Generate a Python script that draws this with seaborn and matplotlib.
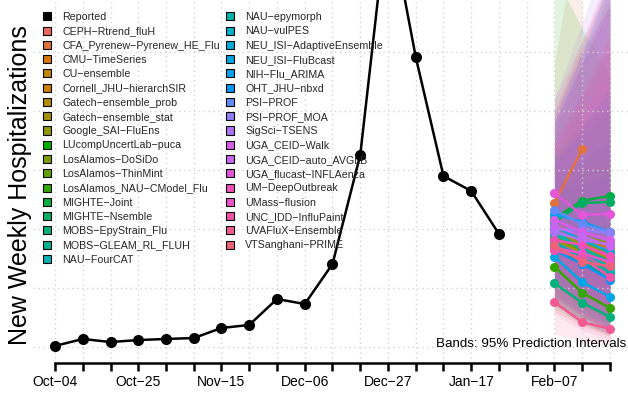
import numpy as np
import pandas as pd
import matplotlib
matplotlib.use("Agg")
import matplotlib.pyplot as plt
import seaborn as sns
from matplotlib.patches import Patch
from matplotlib.ticker import MultipleLocator

# ---------------------------------------------------------------- data
report_dates = ["2025-10-04", "2025-10-11", "2025-10-18", "2025-10-25", "2025-11-01",
                "2025-11-08", "2025-11-15", "2025-11-22", "2025-11-29", "2025-12-06",
                "2025-12-13", "2025-12-20", "2025-12-27", "2026-01-03", "2026-01-10",
                "2026-01-17", "2026-01-24"]
reported = [90, 680, 420, 590, 680, 760, 1610, 1870, 4070, 3640,
            7030, 16270, 37000, 24580, 14490, 13220, 9580]

fc_dates = ["2026-02-07", "2026-02-14", "2026-02-21"]

# legend / display order
models = ["CEPH-Rtrend_fluH", "CFA_Pyrenew-Pyrenew_HE_Flu", "CMU-TimeSeries", "CU-ensemble",
          "Cornell_JHU-hierarchSIR", "Gatech-ensemble_prob", "Gatech-ensemble_stat",
          "Google_SAI-FluEns", "LUcompUncertLab-puca", "LosAlamos-DoSiDo", "LosAlamos-ThinMint",
          "LosAlamos_NAU-CModel_Flu", "MIGHTE-Joint", "MIGHTE-Nsemble", "MOBS-EpyStrain_Flu",
          "MOBS-GLEAM_RL_FLUH", "NAU-FourCAT", "NAU-epymorph", "NAU-vulPES",
          "NEU_ISI-AdaptiveEnsemble", "NEU_ISI-FluBcast", "NIH-Flu_ARIMA", "OHT_JHU-nbxd",
          "PSI-PROF", "PSI-PROF_MOA", "SigSci-TSENS", "UGA_CEID-Walk", "UGA_CEID-auto_AVGLB",
          "UGA_flucast-INFLAenza", "UM-DeepOutbreak", "UMass-flusion", "UNC_IDD-InfluPaint",
          "UVAFluX-Ensemble", "VTSanghani-PRIME"]

# order used when the hue wheel is handed out
color_order = ["CEPH-Rtrend_fluH", "CFA_Pyrenew-Pyrenew_HE_Flu", "CMU-TimeSeries",
               "Cornell_JHU-hierarchSIR", "CU-ensemble", "Gatech-ensemble_prob",
               "Gatech-ensemble_stat", "Google_SAI-FluEns", "LosAlamos-DoSiDo",
               "LosAlamos-ThinMint", "LosAlamos_NAU-CModel_Flu", "LUcompUncertLab-puca",
               "MIGHTE-Joint", "MIGHTE-Nsemble", "MOBS-EpyStrain_Flu", "MOBS-GLEAM_RL_FLUH",
               "NAU-epymorph", "NAU-FourCAT", "NAU-vulPES", "NEU_ISI-AdaptiveEnsemble",
               "NEU_ISI-FluBcast", "NIH-Flu_ARIMA", "OHT_JHU-nbxd", "PSI-PROF", "PSI-PROF_MOA",
               "SigSci-TSENS", "UGA_CEID-auto_AVGLB", "UGA_CEID-Walk", "UGA_flucast-INFLAenza",
               "UMass-flusion", "UM-DeepOutbreak", "UNC_IDD-InfluPaint", "UVAFluX-Ensemble",
               "VTSanghani-PRIME"]

nan = np.nan
fc_median = [
    [9250, 8650, 8200], [12200, 16800, nan], [10350, 9250, 8400], [9400, 8200, 7200],
    [9750, 8550, 7550], [9600, 9050, 8550], [9050, 8050, 7050], [9400, 8750, 8050],
    [8500, 7200, 6000], [10100, 9400, 8750], [9250, 8200, 7350], [6800, 4600, 3300],
    [10900, 12400, 12800], [10600, 12200, 12300], [5400, 3750, 2550], [8900, 7550, 6350],
    [9900, 8200, 6700], [9500, 8400, 7200], [8900, 7350, 6000], [10250, 9050, 8050],
    [7650, 5500, 4250], [11250, 10600, 9750], [8200, 7050, 5700], [11600, 10400, 9750],
    [10000, 9900, 9650], [9750, 9050, 8700], [10750, 9750, 9050], [10250, 9400, 8550],
    [13050, 11200, 11300], [9050, 8650, 7700], [8400, 7950, 7200], [8200, 7550, 5950],
    [3800, 2100, 1550], [8650, 7200, 6850],
]
fc_lower = [
    [4200, 2600, 1500], [6500, 7200, nan], [6800, 4800, 3200], [5600, 3800, 2400],
    [3000, 1800, 900], [6200, 4800, 3600], [5400, 3600, 2200], [6400, 5200, 4200],
    [3500, 2400, 1600], [5000, 3400, 2200], [6000, 4200, 3000], [4600, 2900, 1900],
    [7000, 6200, 5200], [6600, 6000, 5000], [3300, 1900, 1100], [5200, 3600, 2400],
    [4200, 2600, 1500], [5200, 3800, 2600], [5800, 4000, 2800], [6000, 4400, 3200],
    [4400, 2800, 1800], [5500, 3200, 1600], [3800, 2200, 1000], [6800, 4600, 3400],
    [5600, 4200, 3000], [4200, 2600, 1400], [4600, 2800, 1500], [5600, 3800, 2400],
    [7000, 4600, 3200], [3800, 2200, 1100], [4200, 2600, 1400], [2800, 1400, 600],
    [1100, 450, 250], [3600, 2000, 900],
]
fc_upper = [
    [16500, 21000, 25500], [24000, 38000, nan], [14200, 15800, 17200], [15000, 17500, 20000],
    [20000, 26000, 31000], [13800, 15500, 17200], [13500, 14800, 16200], [12600, 13200, 14000],
    [31500, 27000, 23000], [18000, 24000, 30000], [13000, 14500, 15800], [11500, 10500, 9800],
    [16000, 18500, 20500], [16300, 19000, 21500], [9800, 8800, 8200], [14500, 16000, 17500],
    [19000, 25000, 31000], [16000, 18500, 21000], [13000, 13800, 14500], [15800, 17800, 19800],
    [12500, 12000, 11500], [19000, 24000, 29000], [15500, 18500, 22000], [19500, 25000, 31000],
    [18500, 24500, 30500], [21000, 27500, 34000], [20000, 25000, 29000], [17500, 21500, 26000],
    [21000, 26000, 32000], [19500, 25500, 31500], [15500, 19500, 24000], [19000, 24000, 29000],
    [9000, 8500, 8200], [17000, 21500, 26500],
]


# ---------------------------------------------------------------- colours
def hcl_hex(h, c, l):
    """polarLUV (HCL) to an sRGB hex string, clipped into gamut."""
    xn, yn, zn = 95.047, 100.0, 108.883
    un = 4 * xn / (xn + 15 * yn + 3 * zn)
    vn = 9 * yn / (xn + 15 * yn + 3 * zn)
    u = c * np.cos(np.radians(h))
    v = c * np.sin(np.radians(h))
    y = yn * ((l + 16) / 116) ** 3 if l > 8 else yn * l / 903.3
    up = u / (13 * l) + un
    vp = v / (13 * l) + vn
    x = 9.0 * y * up / (4 * vp)
    z = -x / 3 - 5 * y + 3 * y / vp
    x, y, z = x / 100, y / 100, z / 100
    rgb = [3.240479 * x - 1.537150 * y - 0.498535 * z,
           -0.969256 * x + 1.875992 * y + 0.041556 * z,
           0.055648 * x - 0.204043 * y + 1.057311 * z]
    out = []
    for ch in rgb:
        ch = 12.92 * ch if ch <= 0.0031308 else 1.055 * ch ** (1 / 2.4) - 0.055
        out.append(min(max(ch, 0.0), 1.0))
    return matplotlib.colors.to_hex(out)


n = len(color_order)
palette = {m: hcl_hex(15 + 360 * i / n, 100, 60) for i, m in enumerate(color_order)}

# ---------------------------------------------------------------- frames
t0 = pd.Timestamp(report_dates[0])


def week_of(d):
    return (pd.Timestamp(d) - t0).days / 7.0


rep = pd.DataFrame({"week": [week_of(d) for d in report_dates], "value": reported})
fc_weeks = [week_of(d) for d in fc_dates]
rows = []
for m, med, lo, hi in zip(models, fc_median, fc_lower, fc_upper):
    for w, a, b, c in zip(fc_weeks, med, lo, hi):
        rows.append({"model": m, "week": w, "value": a, "lower": b, "upper": c})
fc = pd.DataFrame(rows)

# ---------------------------------------------------------------- figure
sns.set_theme(style="white")
plt.rcParams["font.family"] = ["Liberation Sans", "DejaVu Sans"]

W, H = 628, 394
fig = plt.figure(figsize=(W / 100, H / 100), dpi=100)
ax = fig.add_axes([33 / W, (H - 363) / H, (W - 33) / W, 363 / H])

# 95% prediction interval bands
for m in models:
    d = fc[fc["model"] == m]
    ax.fill_between(d["week"], d["lower"], d["upper"], color=palette[m],
                    alpha=0.12, linewidth=0, zorder=1)

# forecast medians
sns.lineplot(data=fc, x="week", y="value", hue="model", hue_order=models,
             palette=palette, marker="o", markersize=6.5, markeredgewidth=0,
             linewidth=1.8, legend=False, sort=False, errorbar=None, ax=ax, zorder=3)

# reported series
sns.lineplot(data=rep, x="week", y="value", color="black", marker="o",
             markersize=8, markeredgewidth=0, linewidth=1.8, legend=False,
             errorbar=None, ax=ax, zorder=4)

ax.set_xlim(-0.793, 20.65)
ax.set_ylim(-1356, 29408)

# axes, ticks and grid
ax.xaxis.set_major_locator(MultipleLocator(3))
ax.xaxis.set_minor_locator(MultipleLocator(1))
tick_labels = [(t0 + pd.Timedelta(weeks=int(w))).strftime("%b-%d").replace("-", "\u2212")
               for w in range(0, 21, 3)]
ax.set_xticks(list(range(0, 21, 3)))
ax.set_xticklabels(tick_labels)
ax.yaxis.set_major_locator(MultipleLocator(5000))
ax.tick_params(axis="y", length=0, labelleft=False)
ax.tick_params(axis="x", which="both", direction="out", length=5.5, width=1.8,
               color="black", bottom=True)
ax.tick_params(axis="x", which="major", labelsize=10, pad=3, labelcolor="black")
ax.set_xlabel("")
ax.set_ylabel("")

for s in ["left", "top", "right"]:
    ax.spines[s].set_visible(False)
ax.spines["bottom"].set_bounds(0, 20)
ax.spines["bottom"].set_linewidth(1.8)
ax.spines["bottom"].set_color("black")

ax.set_axisbelow("line")
ax.grid(True, which="both", axis="x", color="#D3D3D3", linestyle=(0, (1, 2.5)), linewidth=1)
ax.grid(True, which="major", axis="y", color="#D3D3D3", linestyle=(0, (1, 2.5)), linewidth=1)

# legend
handles = [Patch(facecolor="black", edgecolor="black", linewidth=0.8)]
labels = ["Reported"]
for m in models:
    handles.append(Patch(facecolor=palette[m], edgecolor="black", linewidth=0.8))
    labels.append(m.replace("-", "\u2212"))
fig.legend(handles, labels, loc="upper left", bbox_to_anchor=(43 / W, 1 - 12 / H),
           ncol=2, frameon=False, fontsize=7.7, handlelength=0.78, handleheight=0.78,
           handletextpad=1.0, columnspacing=0.6, labelspacing=0.40,
           borderpad=0, borderaxespad=0)

fig.text(20 / W, 1 - 185 / H, "New Weekly Hospitalizations", rotation=90,
         ha="center", va="center", fontsize=18, color="black")
fig.text(626 / W, 1 - 344 / H, "Bands: 95% Prediction Intervals", ha="right",
         va="center", fontsize=9.6, color="black")

fig.savefig("out.png", dpi=100)
